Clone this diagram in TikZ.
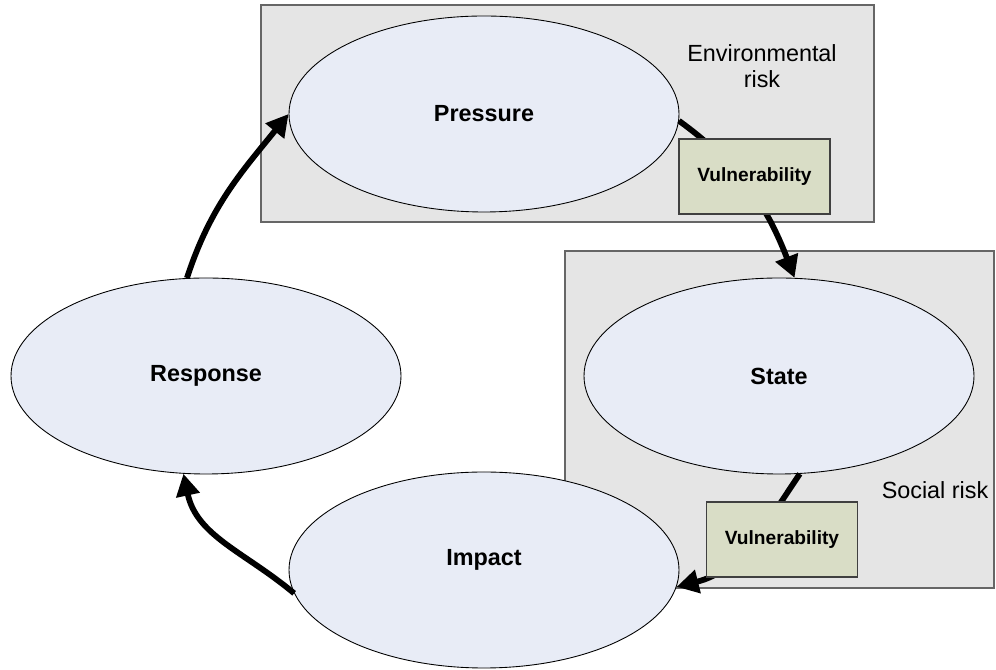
\documentclass[tikz,border=0pt]{standalone}
\usepackage{fontspec}
\setmainfont{Liberation Sans}
\usetikzlibrary{shapes.geometric,arrows.meta}
\definecolor{stagefill}{HTML}{E8ECF6}
\definecolor{riskfill}{HTML}{E5E5E5}
\definecolor{vulnfill}{HTML}{D9DDC6}

\begin{document}
\begin{tikzpicture}[
  stage/.style={ellipse, draw, line width=0.5pt, fill=stagefill, minimum width=7.8cm, minimum height=3.92cm, inner sep=0pt, font=\bfseries\fontsize{13.3}{16}\selectfont},
  riskbox/.style={rectangle, draw=black!60, line width=0.8pt, fill=riskfill, inner sep=0pt},
  vulnbox/.style={rectangle, draw=black!75, line width=0.7pt, fill=vulnfill, minimum width=3.02cm, minimum height=1.5cm, inner sep=0pt, font=\bfseries\fontsize{10.9}{13}\selectfont},
  flow/.style={line width=3.3pt, -{Triangle[length=0.44cm,width=0.46cm]}},
  risklabel/.style={font=\fontsize{13.3}{14.8}\selectfont, align=center}
]
\useasboundingbox (0,0) rectangle (19.92,13.4);
% Risk areas
\node[riskbox, minimum width=12.26cm, minimum height=4.34cm] (envarea) at (11.35,11.13) {};
\node[riskbox, minimum width=8.58cm, minimum height=6.74cm] (socarea) at (15.59,5.01) {};
% Stages of the cycle
\node[stage] (pressure) at (9.68,11.12) {Pressure};
\node[stage] (response) at (4.12,5.88) {Response};
\node[stage] (state) at (15.58,5.88) {State};
\node[stage, text depth=0.5cm] (impact) at (9.68,2.0) {Impact};
% Cycle arrows
\draw[flow] (response.101) to[out=72,in=231] (pressure.west);
\draw[flow] (pressure.-2) to[out=-36,in=111] (state.81);
\draw[flow] (state.-78) to[out=236,in=14] (impact.-5);
\draw[flow] (impact.187) to[out=140,in=-78] (response.257);
% Vulnerability boxes (on top of the arrows)
\node[vulnbox] (vulntop) at (15.09,9.87) {Vulnerability};
\node[vulnbox] (vulnbot) at (15.64,2.61) {Vulnerability};
% Labels of the risk areas
\node[risklabel] (envlabel) at (15.24,12.08) {Environmental\\risk};
\node[risklabel] (soclabel) at (18.7,3.6) {Social risk};
\end{tikzpicture}
\end{document}
